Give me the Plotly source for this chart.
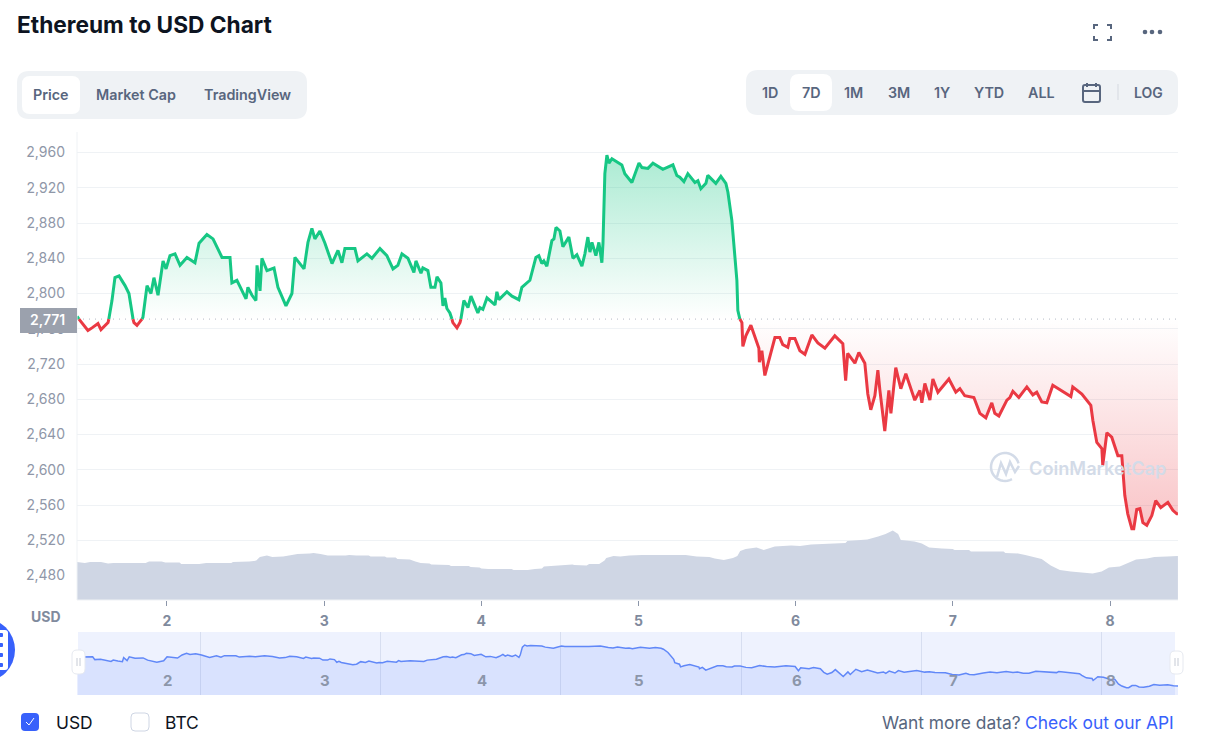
import numpy as np
import plotly.graph_objects as go

W, H = 1206, 752

# day of month, price in USD
days = [1.428,1.440,1.459,1.497,1.523,1.561,1.580,1.625,1.630,1.650,1.669,1.695,1.733,1.758,1.784,1.790,1.809,1.841,1.847,1.873,1.898,1.917,1.943,1.975,1.994,
        2.019,2.051,2.083,2.127,2.178,2.204,2.254,2.293,2.350,2.401,2.413,2.445,2.503,2.515,2.541,2.566,2.573,2.592,2.604,2.636,2.681,2.706,2.757,2.795,2.814,2.872,2.897,2.922,2.941,2.973,
        3.005,3.050,3.088,3.113,3.132,3.196,3.215,3.272,3.304,3.355,3.399,3.438,3.469,3.495,3.533,3.571,3.584,3.616,3.628,3.660,3.679,3.705,3.718,3.743,3.756,3.768,3.781,3.800,3.813,3.819,3.845,3.864,3.870,3.889,3.915,3.934,3.978,3.991,
        4.010,4.036,4.087,4.099,4.112,4.163,4.195,4.239,4.258,4.309,4.347,4.366,4.385,4.398,4.417,4.449,4.462,4.475,4.500,4.519,4.557,4.583,4.608,4.640,4.659,4.678,4.691,4.704,4.729,4.748,4.767,4.774,4.786,4.799,4.812,4.831,4.894,4.913,4.958,
        5.003,5.022,5.060,5.092,5.123,5.155,5.219,5.244,5.263,5.289,5.314,5.359,5.378,5.397,5.429,5.441,5.492,5.524,5.556,5.569,5.594,5.613,5.626,5.632,5.645,5.658,5.664,5.683,5.715,5.740,5.766,5.769,5.785,5.804,5.836,5.868,5.899,5.918,5.950,5.963,5.995,
        6.027,6.059,6.103,6.141,6.186,6.249,6.300,6.318,6.331,6.377,6.402,6.440,6.459,6.478,6.504,6.523,6.536,6.567,6.593,6.606,6.637,6.669,6.701,6.758,6.790,6.803,6.822,6.854,6.873,6.905,6.975,
        7.019,7.045,7.076,7.134,7.172,7.210,7.248,7.267,7.293,7.344,7.363,7.382,7.420,7.471,7.509,7.534,7.566,7.598,7.636,7.681,7.751,7.763,7.821,7.878,7.891,7.916,7.948,7.954,7.980,
        8.011,8.050,8.075,8.094,8.113,8.139,8.151,8.170,8.190,8.209,8.234,8.266,8.291,8.323,8.368,8.400,8.425,8.432]
prices = [2774,2771,2767,2758,2761,2766,2759,2767,2771,2792,2818,2820,2809,2800,2771,2767,2764,2771,2773,2809,2800,2818,2798,2837,2828,
          2843,2845,2832,2841,2835,2857,2867,2862,2841,2841,2812,2815,2794,2807,2798,2792,2832,2803,2840,2826,2829,2807,2786,2800,2841,2828,2858,2874,2862,2871,
          2857,2834,2849,2835,2851,2851,2837,2845,2840,2851,2843,2828,2832,2845,2840,2824,2837,2823,2829,2826,2807,2807,2819,2812,2786,2795,2783,2778,2771,2767,2761,2767,2771,2792,2784,2797,2778,2784,
          2782,2795,2787,2802,2793,2802,2797,2793,2807,2815,2841,2843,2834,2837,2831,2860,2862,2875,2871,2853,2864,2840,2844,2831,2845,2864,2847,2858,2843,2858,2835,2857,2936,2957,2948,2953,2946,2936,2926,
          2948,2943,2942,2948,2945,2941,2946,2934,2932,2927,2936,2926,2928,2919,2925,2934,2925,2933,2925,2915,2883,2845,2815,2781,2771,2767,2740,2752,2764,2750,2738,2722,2735,2707,2727,2750,2750,2742,2739,2749,2749,
          2735,2731,2753,2744,2738,2752,2743,2701,2732,2721,2733,2721,2686,2668,2684,2713,2690,2644,2690,2664,2716,2692,2709,2679,2690,2676,2698,2679,2703,2688,2703,
          2688,2692,2684,2682,2664,2659,2676,2664,2661,2679,2682,2689,2682,2694,2685,2688,2677,2676,2696,2691,2683,2694,2686,2673,2656,2631,2624,2605,2642,
          2637,2616,2616,2571,2550,2533,2533,2555,2556,2540,2537,2548,2565,2557,2563,2554,2550,2550]
base_price = 2771

# volume, billions
vol_days = [1.427,1.477,1.511,1.580,1.625,1.659,1.864,1.886,1.966,1.989,2.080,2.091,2.205,2.250,2.409,2.420,2.523,2.568,2.591,2.636,2.670,2.739,2.795,2.830,2.909,2.932,2.977,
            3.023,3.136,3.159,3.205,3.284,3.295,3.386,3.398,3.455,3.466,3.545,3.580,3.614,3.670,3.682,3.795,3.807,3.920,3.932,3.989,
            4.000,4.045,4.193,4.205,4.295,4.341,4.386,4.398,4.477,4.534,4.580,4.591,4.670,4.686,4.750,4.784,4.795,4.841,4.884,4.942,
            5.023,5.300,5.370,5.451,5.485,5.543,5.601,5.629,5.647,5.682,5.751,5.797,5.832,5.867,5.971,
            6.028,6.098,6.202,6.317,6.329,6.456,6.525,6.572,6.618,6.652,6.669,6.756,6.803,6.849,6.930,6.999,
            7.011,7.103,7.115,7.323,7.334,7.415,7.461,7.565,7.623,7.681,7.750,7.889,7.947,7.993,
            8.062,8.120,8.166,8.236,8.282,8.363,8.432]
volumes = [19,18.5,19,19,18.2,18.5,18.5,19.2,19.3,18.7,18.7,18,18,18.5,18.5,19,19.2,19.7,21.5,22.3,21.5,21.7,22.5,23,23.2,23.5,23,
           22.2,22.2,22.5,22.2,22.2,21.7,21.7,21.2,21.2,20.5,20.3,19.3,18.5,18.3,17.7,17.5,17,17,16.5,16.3,
           15.8,15.5,15.5,15,15,15.5,15.8,16.7,17.2,17.8,17.8,17.5,17.2,18,18,19.7,21,22,21.7,22.2,
           22.5,22.5,21.7,21.5,20.7,20,21,22,24.5,25.5,26.2,25,25.8,26.8,27.3,
           27,27.8,28.3,28.5,29.5,30.2,31.7,33,34.8,33,30,29.2,28.3,26.3,25.8,25.5,
           25,25,24.3,24.3,23.5,23.3,22.5,20.5,17.2,15,14.2,13.3,14.2,16.3,
           16.7,18.7,20.3,20.8,21.5,21.8,22]

price_ticks = [2480,2520,2560,2600,2640,2680,2720,2760,2800,2840,2880,2920,2960]
day_ticks = [2,3,4,5,6,7,8]
main_tabs = ["Price", "Market Cap", "TradingView"]
range_tabs = ["1D", "7D", "1M", "3M", "1Y", "YTD", "ALL"]

GREEN = "#16c784"
RED = "#ea3943"
SLATE = "#58667e"
AXIS_TEXT = "#808a9d"
BLUE = "#3861fb"
FONT = "Inter, Roboto, sans-serif"


def xp(x):
    return x / W


def yp(y):
    return 1 - y / H


def rrect(x0, y0, x1, y1, r, fill, line=None, lw=1, layer="below"):
    # rounded box in page pixels
    path = (f"M{xp(x0+r)},{yp(y0)} L{xp(x1-r)},{yp(y0)} Q{xp(x1)},{yp(y0)} {xp(x1)},{yp(y0+r)} "
            f"L{xp(x1)},{yp(y1-r)} Q{xp(x1)},{yp(y1)} {xp(x1-r)},{yp(y1)} "
            f"L{xp(x0+r)},{yp(y1)} Q{xp(x0)},{yp(y1)} {xp(x0)},{yp(y1-r)} "
            f"L{xp(x0)},{yp(y0+r)} Q{xp(x0)},{yp(y0)} {xp(x0+r)},{yp(y0)} Z")
    return dict(type="path", path=path, xref="paper", yref="paper", fillcolor=fill,
                line=dict(color=line or "rgba(0,0,0,0)", width=lw if line else 0), layer=layer)


def seg(pts, color, width=2, layer="above"):
    # open line through page pixels
    path = "M" + " L".join(f"{xp(a)},{yp(b)}" for a, b in pts)
    return dict(type="path", path=path, xref="paper", yref="paper",
                line=dict(color=color, width=width), layer=layer)


def label(text, x, y, size=14, color=SLATE, weight=600, anchor="center"):
    return dict(text=text, x=xp(x), y=yp(y), xref="paper", yref="paper", showarrow=False,
                xanchor=anchor, yanchor="middle", align=anchor,
                font=dict(family=FONT, size=size, color=color, weight=weight))


p = np.array(prices, dtype=float)
x = np.array(days)
green_line = [v if v >= base_price else None for v in prices]
red_line = [v if v <= base_price else None for v in prices]
base_line = [base_price] * len(days)

fig = go.Figure()

# gradient fills between the line and the opening price
fig.add_trace(go.Scatter(x=days, y=base_line, mode="lines", line=dict(width=0), hoverinfo="skip"))
fig.add_trace(go.Scatter(x=days, y=np.maximum(p, base_price), mode="lines", line=dict(width=0), fill="tonexty",
                         fillgradient=dict(type="vertical", start=base_price, stop=2957,
                                           colorscale=[[0, "rgba(22,199,132,0)"], [1, "rgba(22,199,132,0.36)"]])))
fig.add_trace(go.Scatter(x=days, y=base_line, mode="lines", line=dict(width=0), hoverinfo="skip"))
fig.add_trace(go.Scatter(x=days, y=np.minimum(p, base_price), mode="lines", line=dict(width=0), fill="tonexty",
                         fillgradient=dict(type="vertical", start=2533, stop=base_price,
                                           colorscale=[[0, "rgba(234,57,67,0.3)"], [1, "rgba(234,57,67,0)"]])))

# dotted opening price
fig.add_trace(go.Scatter(x=[1.4275, 8.4326], y=[base_price, base_price], mode="lines",
                         line=dict(color="#b4b9c4", width=1, dash="1px 5px")))

fig.add_trace(go.Scatter(x=days, y=green_line, mode="lines", connectgaps=False, line=dict(color=GREEN, width=3)))
fig.add_trace(go.Scatter(x=days, y=red_line, mode="lines", connectgaps=False, line=dict(color=RED, width=3)))

# volume on its own hidden scale
fig.add_trace(go.Scatter(x=vol_days, y=volumes, yaxis="y2", mode="lines", line=dict(width=0),
                         fill="tozeroy", fillcolor="#cfd6e4"))

# navigator strip starts later than the main chart
nav_mask = x >= 2.35
nav_x = [2.314] + x[nav_mask].tolist()
nav_y = [2838] + p[nav_mask].tolist()
fig.add_trace(go.Scatter(x=nav_x, y=nav_y, xaxis="x3", yaxis="y3", mode="lines",
                         line=dict(color="#6188f8", width=1.5), fill="tozeroy",
                         fillcolor="rgba(56,97,251,0.11)"))

shapes = [
    # tab groups
    rrect(17, 71, 307, 119, 12, "#eff2f5"),
    rrect(22, 76, 80, 114, 8, "#ffffff"),
    rrect(746, 70, 1178, 115, 12, "#eff2f5"),
    rrect(790, 74, 832, 111, 9, "#ffffff"),
    # calendar icon
    rrect(1083, 85, 1100, 102, 2, "rgba(0,0,0,0)", SLATE, 2, "above"),
    seg([(1083, 91), (1100, 91)], SLATE),
    seg([(1087, 83), (1087, 87)], SLATE),
    seg([(1096, 83), (1096, 87)], SLATE),
    seg([(1118, 84), (1118, 100)], "#d5d9e0", 1),
    # fullscreen brackets
    seg([(1094, 29), (1094, 25), (1098, 25)], SLATE),
    seg([(1107, 25), (1111, 25), (1111, 29)], SLATE),
    seg([(1094, 36), (1094, 40), (1098, 40)], SLATE),
    seg([(1107, 40), (1111, 40), (1111, 36)], SLATE),
    # navigator background
    dict(type="rect", xref="paper", yref="paper", x0=xp(78), x1=xp(1175), y0=yp(695), y1=yp(632),
         fillcolor="#eef2fe", line=dict(width=0), layer="below"),
    # axis edges
    seg([(77, 132), (77, 600)], "#eff2f5", 1),
    seg([(77, 600), (1178, 600)], "#eff2f5", 1),
    # price flag
    dict(type="rect", xref="paper", yref="paper", x0=xp(20), x1=xp(77), y0=yp(333), y1=yp(308),
         fillcolor="#9ba1ad", line=dict(width=0), layer="above"),
    # navigator handles
    rrect(72, 650, 85, 674, 5, "#ffffff", "#e6e9f0", 1, "above"),
    seg([(77, 658), (77, 666)], "#c6cbd5", 1),
    seg([(80, 658), (80, 666)], "#c6cbd5", 1),
    rrect(1170, 651, 1183, 674, 5, "#ffffff", "#e6e9f0", 1, "above"),
    seg([(1175, 658), (1175, 666)], "#c6cbd5", 1),
    seg([(1178, 658), (1178, 666)], "#c6cbd5", 1),
    # floating button cut by the page edge
    dict(type="circle", xref="paper", yref="paper", x0=xp(-49), x1=xp(15), y0=yp(682), y1=yp(618),
         fillcolor=BLUE, line=dict(width=0), layer="above"),
    rrect(-8, 630, 8, 670, 3, "#ffffff", None, 0, "above"),
    # check boxes
    rrect(21, 713, 39, 731, 4, BLUE),
    seg([(26, 722), (29, 725), (34, 718)], "#ffffff", 1),
    rrect(131, 713, 149, 731, 4, "#ffffff", "#cfd6e4", 1),
]

# dots on the floating button and the menu
for row in [635, 645, 655, 665]:
    shapes.append(rrect(-4, row - 2, 3, row + 2, 1, BLUE, None, 0, "above"))
for dot in [1145, 1152, 1160]:
    shapes.append(dict(type="circle", xref="paper", yref="paper", x0=xp(dot - 2.3), x1=xp(dot + 2.3),
                       y0=yp(34.3), y1=yp(29.7), fillcolor=SLATE, line=dict(width=0), layer="above"))

# watermark ring, open at the lower right
ang = np.radians(np.linspace(15, 300, 30))
ring = [(1005 + 14 * np.cos(a), 467 - 14 * np.sin(a)) for a in ang]
shapes.append(seg(ring[::-1], "#d3dbe8", 2.5))
shapes.append(seg([(997, 477), (1001, 463), (1006, 474), (1010, 462), (1015, 472), (1019, 466)], "#d3dbe8", 2.5))

annotations = [
    label("Ethereum to USD Chart", 15, 25, size=22.7, color="#0d1421", weight=700, anchor="left"),
    label("LOG", 1148, 92),
    label("USD", 46, 616, color=AXIS_TEXT, weight=700),
    label("2,771", 47, 320, color="#ffffff", size=14, weight=600),
    label("CoinMarketCap", 1097, 468, size=18.2, color="#d3dbe8", weight=600),
    label("USD", 54, 722, size=17.4, color="#0d1421", weight=400, anchor="left"),
    label("BTC", 163, 722, size=17.4, color="#0d1421", weight=400, anchor="left"),
    label("Want more data?", 1023, 722, size=17.4, weight=400, anchor="right"),
    label("Check out our API", 1176, 722, size=17.4, color=BLUE, weight=400, anchor="right"),
]
for name, cx in zip(main_tabs, [51, 136, 247.5]):
    annotations.append(label(name, cx, 95, size=14.3))
for name, cx in zip(range_tabs, [770, 811, 853.5, 898.5, 942, 989, 1041]):
    annotations.append(label(name, cx, 92, size=14.3))
# navigator labels sit under the main chart's day positions
for d in day_ticks:
    annotations.append(dict(text=str(d), x=d, y=yp(680), xref="x", yref="paper", showarrow=False,
                            xanchor="center", yanchor="middle", xshift=1,
                            font=dict(family=FONT, size=15, color="#8c96aa", weight=700)))

fig.update_layout(
    width=W, height=H, autosize=False, margin=dict(l=0, r=0, t=0, b=0),
    paper_bgcolor="#ffffff", plot_bgcolor="rgba(0,0,0,0)", showlegend=False, hovermode=False,
    shapes=shapes, annotations=annotations,
    xaxis=dict(domain=[xp(77), xp(1178)], range=[1.4275, 8.4326], tickvals=day_ticks, showgrid=False, zeroline=False,
               ticks="outside", ticklen=5, tickcolor="#8c96aa", tickwidth=1, anchor="y",
               tickfont=dict(family=FONT, size=14, color=AXIS_TEXT, weight=700), ticklabelstandoff=3),
    yaxis=dict(domain=[yp(600), yp(132)], range=[2452.2, 2983.3], tickvals=price_ticks, tickformat=",",
               gridcolor="#eff2f5", gridwidth=1, zeroline=False, anchor="x", ticklabelstandoff=11,
               tickfont=dict(family=FONT, size=14, color="#8f97a8")),
    yaxis2=dict(domain=[yp(600), yp(132)], range=[0, 234], overlaying="y", visible=False),
    xaxis3=dict(domain=[xp(77), xp(1178)], range=[2.314, 8.425], anchor="y3", dtick=1, tick0=2, showticklabels=False,
                showgrid=True, gridcolor="#d7def0", gridwidth=1, zeroline=False, ticks=""),
    yaxis3=dict(domain=[yp(695), yp(632)], range=[2461, 3086], anchor="x3", visible=False),
)

fig.write_html("out.html", config=dict(displayModeBar=False),
               post_script="document.body.style.margin='0';")
